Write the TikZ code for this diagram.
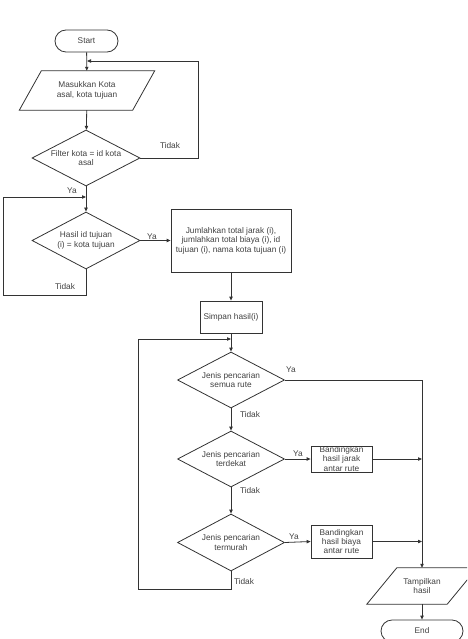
\documentclass[tikz,border=0pt]{standalone}
\usepackage{fontspec}
\setmainfont{Liberation Sans}
\usetikzlibrary{shapes.geometric,arrows.meta,calc}
\begin{document}
\begin{tikzpicture}[x=1pt,y=-1pt,
  every node/.style={font=\fontsize{8.3}{9.4}\selectfont, text=black!75, align=center},
  line/.style={draw=black!80, line width=0.8pt},
  arr/.style={line, -{Triangle[length=4pt,width=3.4pt]}},
  term/.style={draw=black!80, line width=0.8pt, rectangle, rounded corners=11pt, minimum height=22pt, inner sep=0pt},
  proc/.style={draw=black!80, line width=0.8pt, rectangle, inner sep=1pt},
  dec/.style={draw=black!80, line width=0.8pt, diamond, inner sep=0pt},
  iobox/.style={rectangle, inner sep=0pt},
  para/.style={draw=black!80, line width=0.8pt, line join=miter}
]
\clip (0,0) rectangle (467,639);
\useasboundingbox (0,0) rectangle (467,639);

% terminals
\node[term, minimum width=63pt] (start) at (86.5,41) {Start};
\node[term, minimum width=82pt] (endn) at (422,631) {End};

% input parallelogram
\node[iobox, minimum width=113pt, minimum height=39pt] (input) at (87,90.5) {Masukkan Kota\\asal, kota tujuan};
\draw[para] ($(input.north west)+(11,0)$) -- ($(input.north east)+(11,0)$) -- ($(input.south east)+(-11,0)$) -- ($(input.south west)+(-11,0)$) -- cycle;

% decisions
\node[dec, minimum width=108pt, minimum height=56pt] (filter) at (86,158) {};
\node (filtertxt) at (86,158) {Filter kota = id kota\\asal};
\node[dec, minimum width=108pt, minimum height=57pt] (hasil) at (86,240.5) {};
\node (hasiltxt) at (86,240.5) {Hasil id tujuan\\(i) = kota tujuan};

% process boxes
\node[proc, minimum width=120pt, minimum height=63pt] (jumlah) at (231,240.5) {Jumlahkan total jarak (i),\\jumlahkan total biaya (i), id\\tujuan (i), nama kota tujuan (i)};
\node[proc, minimum width=62pt, minimum height=32pt] (simpan) at (231,317) {Simpan hasil(i)};

\node[dec, minimum width=107pt, minimum height=56pt] (semua) at (231,380) {};
\node (semuatxt) at (231,380) {Jenis pencarian\\semua rute};
\node[dec, minimum width=107pt, minimum height=56pt] (terdekat) at (231,459) {};
\node (terdekattxt) at (231,459) {Jenis pencarian\\terdekat};
\node[dec, minimum width=107pt, minimum height=57pt] (termurah) at (231,542.5) {};
\node (termurahtxt) at (231,542.5) {Jenis pencarian\\termurah};

\node[proc, minimum width=61pt, minimum height=26pt, inner sep=0pt] (jarak) at (341.5,459) {Bandingkan\\hasil jarak\\antar rute};
\node[proc, minimum width=61pt, minimum height=33pt, inner sep=0pt] (biaya) at (341.5,541.5) {Bandingkan\\hasil biaya\\antar rute};

% output parallelogram
\node[iobox, minimum width=80pt, minimum height=36pt] (tampil) at (422,586) {Tampilkan\\hasil};
\draw[para] ($(tampil.north west)+(15,0)$) -- ($(tampil.north east)+(15,0)$) -- ($(tampil.south east)+(-15,0)$) -- ($(tampil.south west)+(-15,0)$) -- cycle;

% helper coordinates
\coordinate (fl) at (87,61);
\coordinate (flc) at (198,61);
\coordinate (hl) at (86,197);
\coordinate (hc) at (3,295);
\coordinate (ml) at (231,339);
\coordinate (mc) at (138,589);
\coordinate (j1) at (422,459);
\coordinate (j2) at (422,541.5);

% connectors
\draw[arr] (start) -- (input);
\draw[arr] (input) -- (filter);
\draw[arr] (filter.east) -| (flc) -- (fl);
\draw[arr] (filter) -- (hasil);
\draw[arr] (hasil.south) |- (hc) |- (hl);
\draw[arr] (hasil.east) -- (jumlah.west);
\draw[arr] (jumlah) -- (simpan);
\draw[arr] (simpan) -- (semua);
\draw[arr] (semua) -- (terdekat);
\draw[arr] (terdekat) -- (termurah);
\draw[arr] (terdekat.east) -- (jarak.west);
\draw[arr] (termurah.east) -- (biaya.west);
\draw[arr] (jarak.east) -- (j1);
\draw[arr] (biaya.east) -- (j2);
\draw[arr] (semua.east) -| (tampil.north);
\draw[arr] (termurah.south) |- (mc) |- (ml);
\draw[arr] (tampil) -- (endn);

% labels
\node (l1) at (170,146) {Tidak};
\node (l2) at (72,191) {Ya};
\node (l3) at (152,237) {Ya};
\node (l4) at (65,287) {Tidak};
\node (l5) at (291,370) {Ya};
\node (l6) at (250,415) {Tidak};
\node (l7) at (298,454) {Ya};
\node (l8) at (250,491) {Tidak};
\node (l9) at (294,537) {Ya};
\node (l10) at (244,582) {Tidak};
\end{tikzpicture}
\end{document}
